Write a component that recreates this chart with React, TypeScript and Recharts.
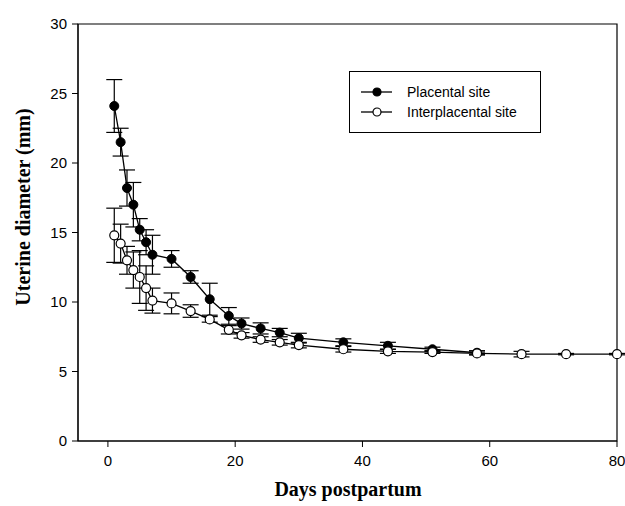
import React from 'react';
import { LineChart, Line, XAxis, YAxis, ErrorBar, Legend, Label, ReferenceArea } from 'recharts';

const placentalDays = [1, 2, 3, 4, 5, 6, 7, 10, 13, 16, 19, 21, 24, 27, 30, 37, 44, 51, 58];
const placentalMean = [24.1, 21.5, 18.2, 17.0, 15.2, 14.3, 13.4, 13.1, 11.8, 10.2, 9.0, 8.45, 8.1, 7.8, 7.4, 7.1, 6.85, 6.6, 6.35];
const placentalSE = [1.9, 1.0, 1.3, 1.6, 0.8, 0.9, 1.4, 0.6, 0.45, 1.15, 0.6, 0.4, 0.4, 0.3, 0.35, 0.25, 0.25, 0.15, 0.15];

const interDays = [1, 2, 3, 4, 5, 6, 7, 10, 13, 16, 19, 21, 24, 27, 30, 37, 44, 51, 58, 65, 72, 80];
const interMean = [14.8, 14.2, 13.0, 12.3, 11.8, 11.0, 10.1, 9.9, 9.35, 8.75, 8.0, 7.6, 7.3, 7.1, 6.9, 6.6, 6.45, 6.4, 6.3, 6.25, 6.25, 6.25];
const interSE = [1.95, 1.4, 1.0, 1.3, 1.9, 1.6, 0.9, 0.75, 0.45, 0.2, 0.3, 0.2, 0.2, 0.2, 0.2, 0.2, 0.15, 0.1, 0.1, 0.2, 0.05, 0.05];

const xTicks = [0, 20, 40, 60, 80];
const yTicks = [0, 5, 10, 15, 20, 25, 30];
const seriesNames = ['Placental site', 'Interplacental site'];

const placentalData = placentalDays.map((d, i) => ({ day: d, mean: placentalMean[i], se: placentalSE[i] }));
const interData = interDays.map((d, i) => ({ day: d, mean: interMean[i], se: interSE[i] }));

const tickStyle = { fontFamily: 'Liberation Sans, Arial, sans-serif', fontSize: 15, fill: '#000' };

const renderLegend = () => (
  <div
    style={{
      position: 'relative',
      width: 192,
      height: 62,
      border: '1px solid #000',
      boxSizing: 'border-box',
      background: '#fff',
      fontFamily: 'Liberation Sans, Arial, sans-serif',
      fontSize: 14,
      color: '#000',
    }}
  >
    {seriesNames.map((name, i) => (
      <div key={name} style={{ position: 'absolute', left: 0, top: 11 + i * 20, height: 18, width: 190 }}>
        <svg width={50} height={18} style={{ position: 'absolute', left: 0, top: 0 }}>
          <line x1={11} y1={9} x2={42} y2={9} stroke="#000" strokeWidth={1.3} />
          <circle cx={27} cy={9} r={4} fill={i === 0 ? '#000' : '#fff'} stroke="#000" strokeWidth={1.2} />
        </svg>
        <span style={{ position: 'absolute', left: 57, top: 0, lineHeight: '18px', whiteSpace: 'nowrap' }}>{name}</span>
      </div>
    ))}
  </div>
);

export default function App() {
  return (
    <div style={{ position: 'absolute', left: 0, top: 0, background: '#fff' }}>
      <LineChart width={625} height={506} margin={{ top: 24, right: 8, left: 0, bottom: 0 }}>
        <XAxis
          type="number"
          dataKey="day"
          domain={[-4.7, 80]}
          ticks={xTicks}
          height={65}
          tickSize={6}
          tickMargin={8}
          stroke="#000"
          tick={tickStyle}
        >
          <Label
            content={() => (
              <text
                x={348}
                y={496}
                textAnchor="middle"
                fontFamily="Liberation Serif, Times New Roman, serif"
                fontWeight="bold"
                fontSize={20}
                fill="#000"
              >
                Days postpartum
              </text>
            )}
          />
        </XAxis>
        <YAxis
          type="number"
          domain={[0, 30]}
          ticks={yTicks}
          width={78}
          tickSize={6}
          tickMargin={5}
          stroke="#000"
          tick={tickStyle}
        >
          <Label
            content={() => (
              <text
                x={23}
                y={207}
                transform="rotate(-90 23 207)"
                textAnchor="middle"
                dominantBaseline="central"
                fontFamily="Liberation Serif, Times New Roman, serif"
                fontWeight="bold"
                fontSize={20}
                fill="#000"
              >
                Uterine diameter (mm)
              </text>
            )}
          />
        </YAxis>
        <ReferenceArea x1={-4.7} x2={80} y1={0} y2={30} fill="none" stroke="#000" strokeWidth={1.2} ifOverflow="visible" />
        <Line
          data={placentalData}
          dataKey="mean"
          name={seriesNames[0]}
          stroke="#000"
          strokeWidth={1.3}
          dot={{ r: 4.5, fill: '#000', stroke: '#000', strokeWidth: 1 }}
          isAnimationActive={false}
        >
          <ErrorBar dataKey="se" width={8} stroke="#000" strokeWidth={1.2} direction="y" />
        </Line>
        <Line
          data={interData}
          dataKey="mean"
          name={seriesNames[1]}
          stroke="#000"
          strokeWidth={1.3}
          dot={{ r: 4.5, fill: '#fff', stroke: '#000', strokeWidth: 1.2 }}
          isAnimationActive={false}
        >
          <ErrorBar dataKey="se" width={8} stroke="#000" strokeWidth={1.2} direction="y" />
        </Line>
        <Legend
          verticalAlign="middle"
          layout="horizontal"
          align="center"
          wrapperStyle={{ left: 349, top: 71, width: 192, height: 62 }}
          content={renderLegend}
        />
      </LineChart>
    </div>
  );
}
